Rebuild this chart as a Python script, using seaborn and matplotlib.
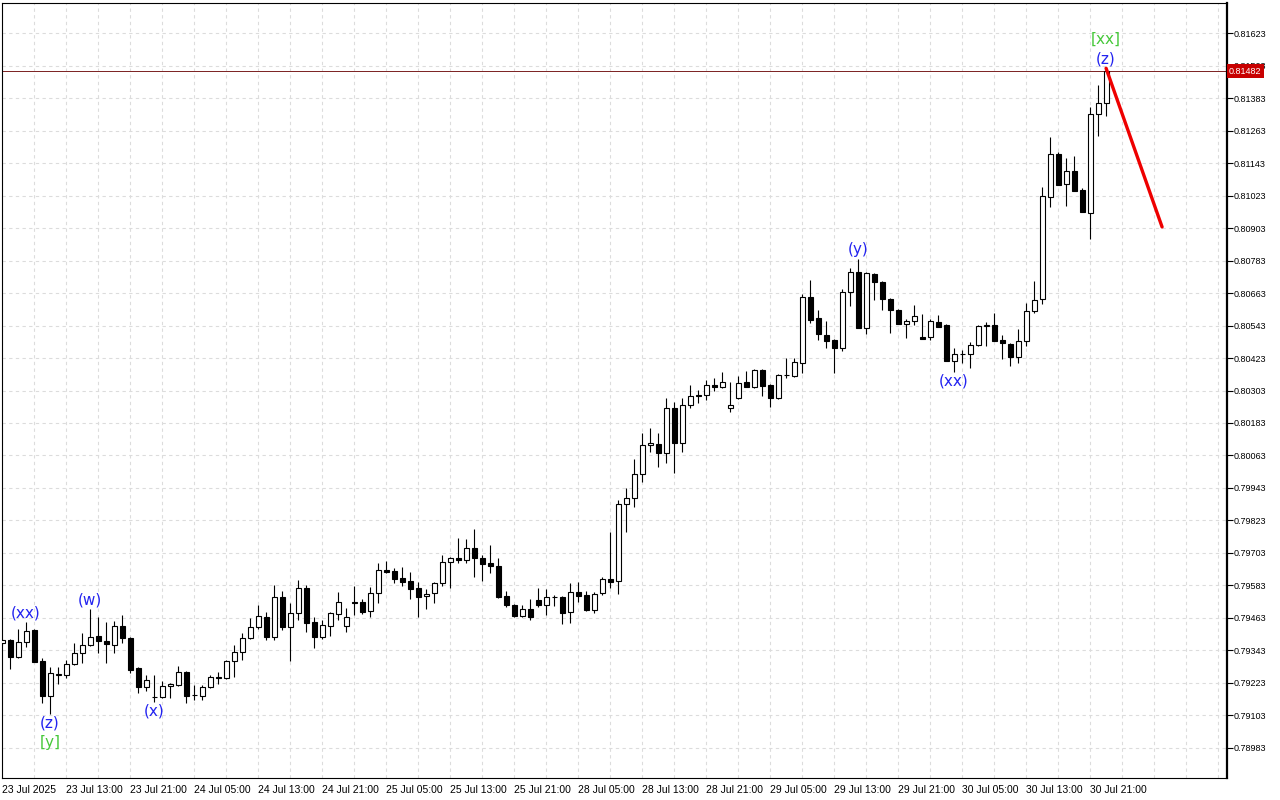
import numpy as np
import pandas as pd
import matplotlib
matplotlib.use("Agg")
import matplotlib.pyplot as plt
import seaborn as sns

# hourly OHLC, 23 Jul 05:00 -> 30 Jul 23:00
opens = [
    0.79371, 0.79382, 0.79319, 0.79374, 0.79419, 0.79304, 0.79175, 0.79253, 0.79253, 0.79293,
    0.79334, 0.79363, 0.79397, 0.79378, 0.79363, 0.79433, 0.79389, 0.79278, 0.79208, 0.79171,
    0.79171, 0.79212, 0.79216, 0.79264, 0.79178, 0.79175, 0.79208, 0.79245, 0.79242, 0.79304,
    0.79337, 0.79389, 0.79430, 0.79467, 0.79393, 0.79540, 0.79430, 0.79481, 0.79574, 0.79448,
    0.79393, 0.79433, 0.79478, 0.79433, 0.79522, 0.79522, 0.79489, 0.79555, 0.79640, 0.79636,
    0.79611, 0.79599, 0.79574, 0.79544, 0.79555, 0.79592, 0.79670, 0.79684, 0.79677, 0.79721,
    0.79684, 0.79666, 0.79655, 0.79544, 0.79511, 0.79470, 0.79496, 0.79530, 0.79511, 0.79540,
    0.79540, 0.79485, 0.79559, 0.79548, 0.79493, 0.79555, 0.79607, 0.79599, 0.79884, 0.79906,
    0.79994, 0.80101, 0.80105, 0.80072, 0.80238, 0.80109, 0.80249, 0.80287, 0.80287, 0.80324,
    0.80316, 0.80238, 0.80276, 0.80335, 0.80316, 0.80379, 0.80324, 0.80276, 0.80361, 0.80357,
    0.80405, 0.80648, 0.80571, 0.80508, 0.80490, 0.80460, 0.80667, 0.80741, 0.80534, 0.80733,
    0.80704, 0.80641, 0.80601, 0.80549, 0.80560, 0.80501, 0.80501, 0.80556, 0.80545, 0.80412,
    0.80438, 0.80438, 0.80471, 0.80543, 0.80545, 0.80490, 0.80475, 0.80427, 0.80486, 0.80597,
    0.80641, 0.81017, 0.81176, 0.81065, 0.81113, 0.81043, 0.80958, 0.81324, 0.81365,
]
highs = [
    0.79386, 0.79386, 0.79422, 0.79448, 0.79422, 0.79315, 0.79282, 0.79282, 0.79308, 0.79371,
    0.79408, 0.79496, 0.79467, 0.79448, 0.79452, 0.79474, 0.79393, 0.79282, 0.79253, 0.79253,
    0.79230, 0.79223, 0.79286, 0.79267, 0.79216, 0.79216, 0.79253, 0.79264, 0.79308, 0.79363,
    0.79408, 0.79463, 0.79511, 0.79485, 0.79585, 0.79563, 0.79519, 0.79603, 0.79585, 0.79467,
    0.79455, 0.79485, 0.79559, 0.79500, 0.79581, 0.79533, 0.79577, 0.79666, 0.79673, 0.79647,
    0.79651, 0.79633, 0.79596, 0.79570, 0.79596, 0.79695, 0.79688, 0.79758, 0.79755, 0.79791,
    0.79695, 0.79732, 0.79684, 0.79563, 0.79515, 0.79511, 0.79533, 0.79574, 0.79570, 0.79548,
    0.79544, 0.79592, 0.79596, 0.79563, 0.79559, 0.79614, 0.79780, 0.79899, 0.79943, 0.80050,
    0.80146, 0.80164, 0.80146, 0.80276, 0.80260, 0.80276, 0.80324, 0.80305, 0.80342, 0.80350,
    0.80372, 0.80335, 0.80357, 0.80375, 0.80383, 0.80383, 0.80327, 0.80364, 0.80423, 0.80423,
    0.80659, 0.80711, 0.80601, 0.80560, 0.80494, 0.80678, 0.80755, 0.80789, 0.80741, 0.80737,
    0.80707, 0.80645, 0.80604, 0.80567, 0.80619, 0.80586, 0.80567, 0.80582, 0.80549, 0.80460,
    0.80453, 0.80482, 0.80545, 0.80556, 0.80590, 0.80508, 0.80479, 0.80530, 0.80627, 0.80707,
    0.81054, 0.81239, 0.81183, 0.81161, 0.81169, 0.81051, 0.81350, 0.81431, 0.81493,
]
lows = [
    0.79363, 0.79275, 0.79315, 0.79356, 0.79301, 0.79149, 0.79109, 0.79219, 0.79242, 0.79289,
    0.79297, 0.79360, 0.79334, 0.79297, 0.79334, 0.79371, 0.79260, 0.79186, 0.79194, 0.79153,
    0.79168, 0.79168, 0.79212, 0.79149, 0.79160, 0.79160, 0.79205, 0.79219, 0.79238, 0.79245,
    0.79308, 0.79386, 0.79422, 0.79382, 0.79382, 0.79419, 0.79304, 0.79455, 0.79411, 0.79352,
    0.79386, 0.79397, 0.79455, 0.79411, 0.79474, 0.79478, 0.79467, 0.79519, 0.79629, 0.79592,
    0.79581, 0.79533, 0.79467, 0.79496, 0.79519, 0.79581, 0.79574, 0.79666, 0.79666, 0.79614,
    0.79599, 0.79629, 0.79537, 0.79504, 0.79467, 0.79467, 0.79455, 0.79504, 0.79474, 0.79507,
    0.79441, 0.79445, 0.79522, 0.79489, 0.79481, 0.79548, 0.79574, 0.79551, 0.79780, 0.79873,
    0.79965, 0.80075, 0.80020, 0.80035, 0.79998, 0.80075, 0.80238, 0.80257, 0.80268, 0.80302,
    0.80313, 0.80223, 0.80272, 0.80316, 0.80313, 0.80283, 0.80242, 0.80272, 0.80350, 0.80353,
    0.80368, 0.80553, 0.80490, 0.80460, 0.80368, 0.80449, 0.80615, 0.80534, 0.80512, 0.80638,
    0.80601, 0.80516, 0.80549, 0.80497, 0.80545, 0.80494, 0.80490, 0.80538, 0.80412, 0.80372,
    0.80405, 0.80386, 0.80468, 0.80468, 0.80486, 0.80420, 0.80394, 0.80405, 0.80468, 0.80589,
    0.80623, 0.80981, 0.81062, 0.80984, 0.81040, 0.80962, 0.80863, 0.81243, 0.81317,
]
closes = [
    0.79382, 0.79319, 0.79374, 0.79415, 0.79301, 0.79175, 0.79260, 0.79256, 0.79293, 0.79334,
    0.79363, 0.79393, 0.79378, 0.79367, 0.79433, 0.79389, 0.79271, 0.79208, 0.79234, 0.79172,
    0.79212, 0.79219, 0.79264, 0.79175, 0.79180, 0.79208, 0.79245, 0.79242, 0.79304, 0.79337,
    0.79389, 0.79430, 0.79470, 0.79393, 0.79540, 0.79430, 0.79481, 0.79574, 0.79445, 0.79393,
    0.79437, 0.79481, 0.79522, 0.79467, 0.79519, 0.79485, 0.79555, 0.79640, 0.79633, 0.79607,
    0.79596, 0.79570, 0.79540, 0.79551, 0.79592, 0.79670, 0.79684, 0.79677, 0.79721, 0.79684,
    0.79662, 0.79655, 0.79540, 0.79511, 0.79470, 0.79496, 0.79467, 0.79511, 0.79540, 0.79541,
    0.79481, 0.79559, 0.79544, 0.79493, 0.79551, 0.79607, 0.79596, 0.79884, 0.79906, 0.79994,
    0.80101, 0.80109, 0.80072, 0.80238, 0.80109, 0.80249, 0.80283, 0.80283, 0.80324, 0.80316,
    0.80335, 0.80249, 0.80331, 0.80316, 0.80379, 0.80320, 0.80276, 0.80361, 0.80362, 0.80409,
    0.80648, 0.80563, 0.80512, 0.80486, 0.80460, 0.80667, 0.80741, 0.80534, 0.80737, 0.80704,
    0.80641, 0.80601, 0.80549, 0.80560, 0.80578, 0.80494, 0.80560, 0.80538, 0.80412, 0.80438,
    0.80439, 0.80471, 0.80543, 0.80544, 0.80486, 0.80479, 0.80427, 0.80486, 0.80597, 0.80638,
    0.81021, 0.81176, 0.81062, 0.81113, 0.81040, 0.80962, 0.81324, 0.81365, 0.81482,
]

# time axis labels, one every 8 bars
time_labels = [
    "23 Jul 2025", "23 Jul 13:00", "23 Jul 21:00", "24 Jul 05:00", "24 Jul 13:00",
    "24 Jul 21:00", "25 Jul 05:00", "25 Jul 13:00", "25 Jul 21:00", "28 Jul 05:00",
    "28 Jul 13:00", "28 Jul 21:00", "29 Jul 05:00", "29 Jul 13:00", "29 Jul 21:00",
    "30 Jul 05:00", "30 Jul 13:00", "30 Jul 21:00",
]
price_ticks = [
    0.78983, 0.79103, 0.79223, 0.79343, 0.79463, 0.79583, 0.79703, 0.79823,
    0.79943, 0.80063, 0.80183, 0.80303, 0.80423, 0.80543, 0.80663, 0.80783,
    0.80903, 0.81023, 0.81143, 0.81263, 0.81383, 0.81503, 0.81623,
]
last_price = 0.81482

# wave markup
wave_text = ["(xx)", "(w)", "(z)", "[y]", "(x)", "(y)", "(xx)", "(z)", "[xx]"]
wave_bar = [3, 11, 6, 6, 19, 107, 119, 138, 138]
wave_side = ["high", "high", "low", "low", "low", "high", "low", "high", "high"]
wave_degree = [1, 1, 1, 2, 1, 1, 1, 1, 2]

# projection line
forecast_bars = [138, 145]
forecast_prices = [0.81493, 0.80907]

df = pd.DataFrame({"open": opens, "high": highs, "low": lows, "close": closes})
df["bar"] = np.arange(len(df))
df["bull"] = df["close"] >= df["open"]

sns.set_style("white")
plt.rcParams["font.family"] = ["Liberation Sans", "DejaVu Sans"]

fig = plt.figure(figsize=(12.8, 8), dpi=100)
ax = fig.add_axes([2 / 1280, 22 / 800, 1225 / 1280, 775 / 800])
ax.set_xlim(-0.01, 1225 / 8 - 0.01)
ax.set_ylim(0.78872, 0.81734)

# candles
ax.vlines(df["bar"], df["low"], df["high"], color="black", lw=0.8, zorder=3)
body_low = df[["open", "close"]].min(axis=1)
body_h = (df["close"] - df["open"]).abs()
ax.bar(df["bar"], body_h, bottom=body_low, width=0.62,
       color=np.where(df["bull"], "white", "black"),
       edgecolor="black", linewidth=0.8, zorder=4)

# current price line and projection
ax.axhline(last_price, color="#7a2020", lw=0.7, zorder=2)
sns.lineplot(x=forecast_bars, y=forecast_prices, color="#ee0000", lw=2.4, ax=ax, zorder=5)

# wave labels
for txt, b, side, deg in zip(wave_text, wave_bar, wave_side, wave_degree):
    off = 9 if deg == 1 else 29
    if side == "high":
        y, dy = df["high"][b], off
    else:
        y, dy = df["low"][b], -off
    ax.annotate(txt, (b, y), xytext=(0, dy), textcoords="offset pixels",
                ha="center", va="center", fontsize=11, family="DejaVu Sans",
                color="#2323f0" if deg == 1 else "#46c83a", zorder=6)

# axes styling
ax.yaxis.tick_right()
ax.set_yticks(price_ticks)
ax.set_yticklabels([f"{p:.5f}" for p in price_ticks], fontsize=6.5)
ax.set_xticks(np.arange(0, 8 * len(time_labels), 8))
ax.set_xticklabels(time_labels, fontsize=7.5)
for lbl in ax.get_xticklabels():
    lbl.set_ha("left")
ax.set_xticks(np.arange(4, 153, 4), minor=True)
ax.tick_params(axis="x", which="major", direction="out", length=4, width=0.8, pad=1, colors="black")
ax.tick_params(axis="x", which="minor", length=0)
ax.tick_params(axis="y", direction="out", length=4, width=0.8, pad=1, colors="black",
               right=True, left=False)
ax.grid(True, axis="x", which="both", color="#dcdcdc", ls=(0, (3, 3)), lw=0.8)
ax.grid(True, axis="y", which="major", color="#dcdcdc", ls=(0, (3, 3)), lw=0.8)
ax.set_axisbelow(True)
for s in ax.spines.values():
    s.set_color("black")
    s.set_linewidth(0.8)
ax.spines["right"].set_linewidth(1.6)

# last price tag (sits over the neighbouring tick label, as in the terminal)
ax.text(1.0017, last_price, f"{last_price:.5f}", transform=ax.get_yaxis_transform(),
        ha="left", va="center", fontsize=6.5, color="white", zorder=10, clip_on=False,
        bbox=dict(boxstyle="square,pad=0.25", fc="#c80000", ec="none"))

fig.savefig("out.png", dpi=100)
